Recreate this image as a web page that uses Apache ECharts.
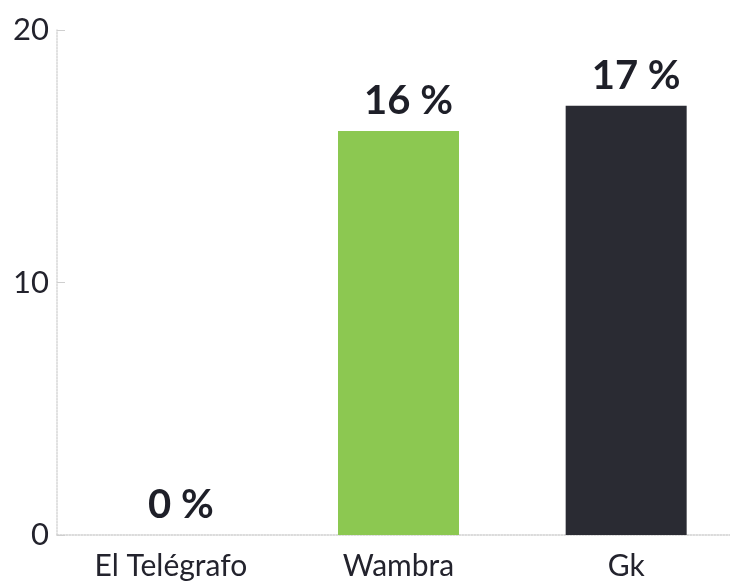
<!DOCTYPE html>
<html>
<head>
<meta charset="utf-8">
<script src="https://cdn.jsdelivr.net/npm/echarts@6/dist/echarts.min.js"></script>
<style>
html, body { margin: 0; padding: 0; background: #fff; }
#chart { width: 730px; height: 586px; }
</style>
</head>
<body>
<div id="chart"></div>
<script>
// datos
var categories = ['El Telégrafo', 'Wambra', 'Gk'];
var values = [0, 16, 17];
var barColors = ['#8cc851', '#8cc851', '#2a2b33'];
var yTicks = [0, 10, 20];

var chart = echarts.init(document.getElementById('chart'));

var data = values.map(function (v, i) {
	return { value: v, itemStyle: { color: barColors[i] } };
});

chart.setOption({
	animation: false,
	grid: { left: 57, top: 30, right: -10, bottom: 51, outerBoundsMode: 'none' },
	xAxis: {
		type: 'category',
		data: categories,
		axisLine: { lineStyle: { color: '#cfcfcf', type: 'dotted', width: 1.5 } },
		axisTick: { show: false },
		axisLabel: {
			margin: 16,
			fontFamily: 'Lato',
			fontSize: 30,
			color: '#23232d'
		}
	},
	yAxis: {
		type: 'value',
		min: yTicks[0],
		max: yTicks[yTicks.length - 1],
		interval: 10,
		splitLine: { show: false },
		axisLine: { show: true, lineStyle: { color: '#d6d6d6', type: 'dotted', width: 1.5 } },
		axisTick: { show: true, inside: true, length: 8, lineStyle: { color: '#cfcfcf' } },
		axisLabel: {
			margin: 8,
			fontFamily: 'Lato',
			fontSize: 31,
			color: '#23232d'
		}
	},
	series: [{
		type: 'bar',
		data: data,
		barWidth: 121,
		label: {
			show: true,
			position: 'top',
			distance: 10,
			offset: [10, 0],
			formatter: function (p) { return p.value + ' %'; },
			fontFamily: 'Lato',
			fontWeight: 'bold',
			fontSize: 40,
			color: '#1e1f28'
		}
	}]
});
</script>
</body>
</html>
